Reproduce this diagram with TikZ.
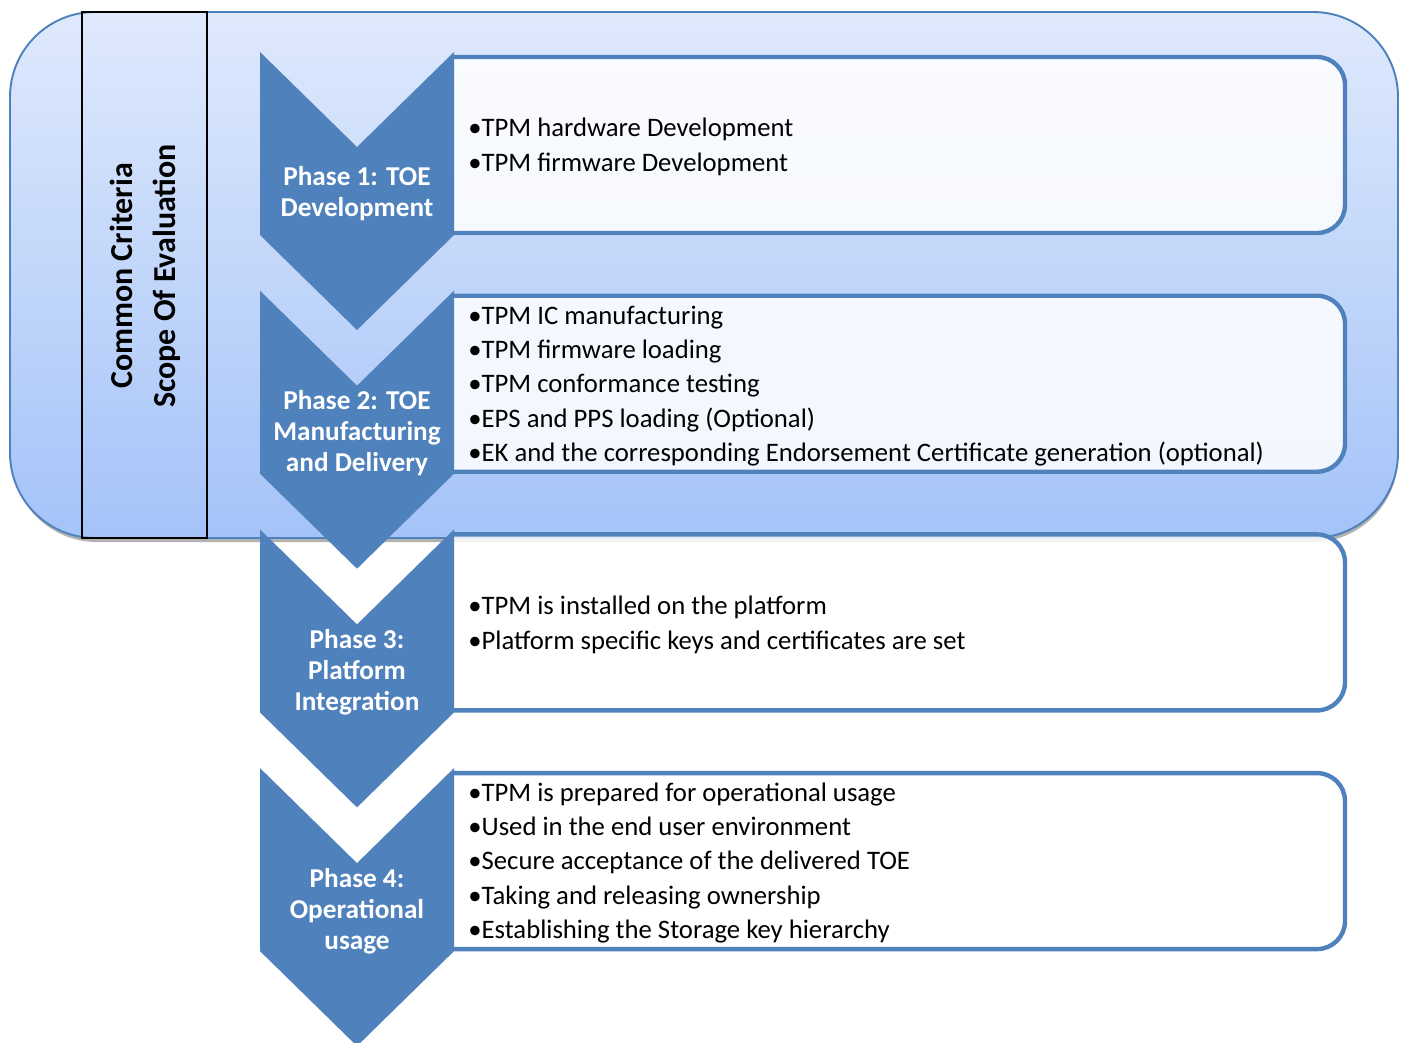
\documentclass[tikz,border=0pt]{standalone}
\usepackage{fontspec}
\setmainfont{Carlito}
\definecolor{chev}{HTML}{4F81BD}
\definecolor{scopetop}{HTML}{DFE9FC}
\definecolor{scopebot}{HTML}{A4C3F8}
\tikzset{
  phase/.style={fill=chev,draw=none},
  phasetext/.style={text=white,font=\bfseries\fontsize{15.5}{17.6}\selectfont,align=center},
  itembox/.style={draw=chev,line width=2.5pt,fill=white,fill opacity=0.85,rounded corners=0.56cm},
  items/.style={anchor=west,align=left,inner sep=0pt,font=\fontsize{15.2}{19.6}\selectfont},
}
\begin{document}
\begin{tikzpicture}[x=0.02cm,y=-0.02cm]
      \useasboundingbox (0,0) rectangle (1403,1042) ;
      % scope of evaluation
      \fill[black!30,rounded corners=1.7cm] (12,16) rectangle (1398,542) ;
      \draw[chev,line width=1.1pt,top color=scopetop,bottom color=scopebot,rounded corners=1.7cm] %
      (10,12) rectangle (1398,538) ;
      \draw[line width=0.8pt] (82,12) rectangle (207,538) ;
      \node[rotate=90,align=center,font=\bfseries\fontsize{18.2}{24.5}\selectfont] %
      (cc) at (145,276) {Common Criteria\\Scope Of Evaluation} ;
      \foreach \k in {0,1,2,3} {
        \begin{scope}[yshift={-\k*238.7*0.02cm}]
          \begin{scope}
            \clip (454,0) rectangle (1403,300) ;
            \draw[itembox] (380,57) rectangle (1345,233) ;
          \end{scope}
          \fill[phase] (260,52)--(357,147)--(454,52)--(454,235)--(357,330)--(260,235)--cycle ;
        \end{scope}
      }
      \node[phasetext] (ph1) at (357,194) {Phase 1: TOE\\Development} ;
      \node[phasetext] (ph2) at (357,433) {Phase 2: TOE\\Manufacturing\\and Delivery} ;
      \node[phasetext] (ph3) at (357,672) {Phase 3:\\Platform\\Integration} ;
      \node[phasetext] (ph4) at (357,911) {Phase 4:\\Operational\\usage} ;
      \node[items] (it1) at (468,147) {•TPM hardware Development\\•TPM firmware Development} ;
      \node[items] (it2) at (468,386) {•TPM IC manufacturing\\•TPM firmware loading\\%
        •TPM conformance testing\\•EPS and PPS loading (Optional)\\%
        •EK and the corresponding Endorsement Certificate generation (optional)} ;
      \node[items] (it3) at (468,625) {•TPM is installed on the platform\\%
        •Platform specific keys and certificates are set} ;
      \node[items] (it4) at (468,863) {•TPM is prepared for operational usage\\•Used in the end user environment\\%
        •Secure acceptance of the delivered TOE\\•Taking and releasing ownership\\%
        •Establishing the Storage key hierarchy} ;
    \end{tikzpicture}
\end{document}
